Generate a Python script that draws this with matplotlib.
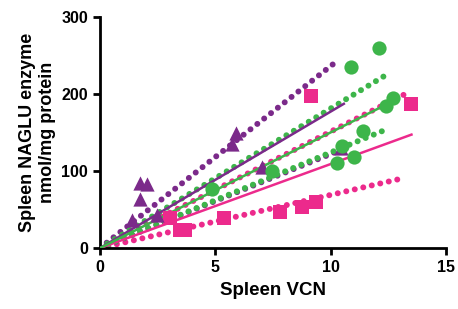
import matplotlib.pyplot as plt
import numpy as np

plt.rcParams['font.family'] = ['Liberation Sans', 'DejaVu Sans']
plt.rcParams['font.weight'] = 'bold'

purple = '#7B2A8A'
green = '#3DB54A'
pink = '#EC2A8C'

# data points
tri_x = [1.38, 1.74, 1.74, 2.06, 2.46, 5.72, 5.9, 7.03, 10.43]
tri_y = [36, 64, 84, 83, 43, 135, 149, 105, 130]
circ_x = [4.86, 7.46, 10.29, 10.5, 11.0, 11.38, 10.87, 12.1, 12.39, 12.68]
circ_y = [77, 100, 110, 133, 118, 152, 235, 259, 184, 195]
sq_x = [3.04, 3.48, 3.7, 5.36, 7.8, 8.77, 9.35, 9.16, 13.48]
sq_y = [38.5, 23, 24, 38.5, 47, 53.5, 60, 197, 187]

# fitted slopes through origin: (fit, upper, lower), line end x
purple_fit = [17.7, 23.6, 12.2]
purple_end = [10.57, 10.26, 10.7]
green_fit = [15.0, 18.1, 12.4]
green_end = [12.6, 12.35, 12.5]
pink_fit = [10.9, 15.1, 6.9]
pink_end = [13.5, 13.3, 13.2]

fig, ax = plt.subplots(figsize=(4.58, 3.09), dpi=100)

dot = (0, (0.01, 1.45))

def draw_fit(slopes, ends, color):
    for i, (s, e) in enumerate(zip(slopes, ends)):
        xs = np.array([0, e])
        if i == 0:
            ax.plot(xs, s * xs, color=color, lw=1.8, zorder=3)
        else:
            ax.plot(xs, s * xs, color=color, lw=4.3, linestyle=dot,
                    dash_capstyle='round', zorder=2)

draw_fit(pink_fit, pink_end, pink)
draw_fit(purple_fit, purple_end, purple)
draw_fit(green_fit, green_end, green)

ax.scatter(sq_x, sq_y, marker='s', s=95, color=pink, zorder=4, linewidths=0)
ax.scatter(tri_x, tri_y, marker='^', s=105, color=purple, zorder=4, linewidths=0)
ax.scatter(circ_x, circ_y, marker='o', s=105, color=green, zorder=5, linewidths=0)

ax.set_xlim(0, 15)
ax.set_ylim(0, 300)
ax.set_xticks([0, 5, 10, 15])
ax.set_yticks([0, 100, 200, 300])
ax.spines['top'].set_visible(False)
ax.spines['right'].set_visible(False)
for sp in ['left', 'bottom']:
    ax.spines[sp].set_linewidth(2)
ax.tick_params(width=2, length=5, labelsize=11.5)
for lab in ax.get_xticklabels() + ax.get_yticklabels():
    lab.set_fontweight('bold')

ax.set_xlabel('Spleen VCN', fontsize=13.5, fontweight='bold', labelpad=5)
ax.set_ylabel('Spleen NAGLU enzyme\nnmol/mg protein', fontsize=13,
              fontweight='bold', labelpad=4)

fig.subplots_adjust(left=0.218, right=0.974, bottom=0.197, top=0.946)
fig.savefig('out.png', dpi=100)
